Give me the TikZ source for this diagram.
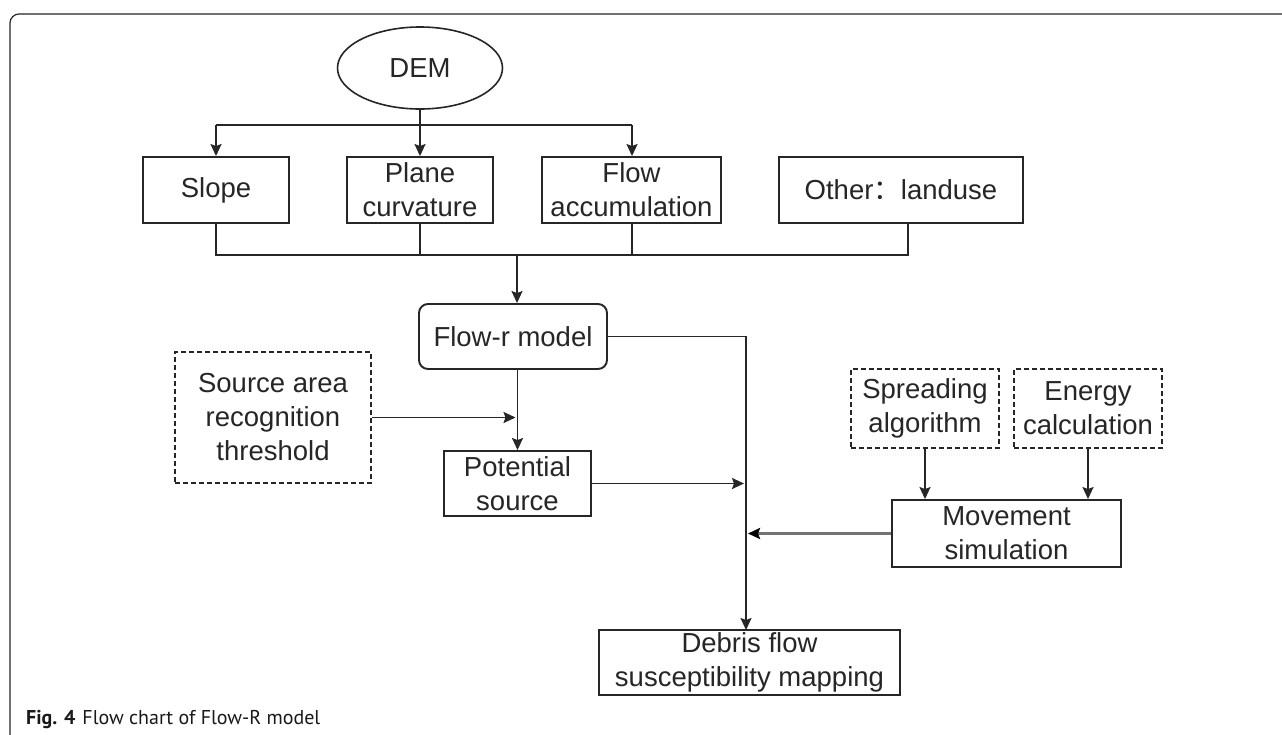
\documentclass[tikz,border=0pt]{standalone}
\usepackage{fontspec}
\setmainfont{Liberation Sans}
\newfontfamily\capfont{PT Sans}
\newfontfamily\cjkfont{Noto Sans CJK SC}
\usetikzlibrary{shapes.geometric,arrows.meta,calc}
\begin{document}
\begin{tikzpicture}[x=1pt,y=-1pt,
  lbl/.style={inner sep=0pt,align=center,text=black!85,font=\fontsize{27.5}{34}\selectfont},
  box/.style={lbl,draw=black!85,line width=1.9pt,rectangle},
  rbox/.style={box,rounded corners=9pt},
  dbox/.style={box,dashed,dash pattern=on 5pt off 3pt},
  oval/.style={lbl,draw=black!85,line width=1.6pt,ellipse},
  conn/.style={draw=black!85,line width=1.8pt},
  arr/.style={conn,-{Stealth[length=12pt,width=11pt,inset=2pt]}},
  grayarr/.style={draw=black!55,line width=2.6pt,-{Stealth[length=12pt,width=11pt,inset=2pt,color=black,fill=black]}},
  frame/.style={draw=black!85,line width=1.2pt,rounded corners=9pt}
]
\useasboundingbox (0,0) rectangle (1282,734);
\path[fill=white] (0,0) rectangle (1282,734);
\draw[frame] (1283,14) -- (10,14) -- (10,735);

\node[oval,minimum width=165pt,minimum height=82pt] (dem) at (420,68) {DEM};
\node[box,minimum width=146pt,minimum height=66pt] (slope) at (216,190) {Slope};
\node[box,minimum width=146pt,minimum height=66pt] (plane) at (420,190) {Plane\\curvature};
\node[box,minimum width=179pt,minimum height=66pt] (flowacc) at (631.5,190) {Flow\\accumulation};
\node[box,minimum width=244pt,minimum height=66pt] (other) at (901,190) {Other{\cjkfont ：}landuse};
\node[rbox,minimum width=188pt,minimum height=65pt] (flowr) at (513,336.5) {Flow-r model};
\node[dbox,minimum width=196pt,minimum height=131pt] (source) at (273,417.5) {Source area\\recognition\\threshold};
\node[box,minimum width=147pt,minimum height=65pt] (potential) at (517.5,483.5) {Potential\\source};
\node[dbox,minimum width=148pt,minimum height=79pt] (spreading) at (925,408.5) {Spreading\\algorithm};
\node[dbox,minimum width=148pt,minimum height=79pt] (energy) at (1088,408.5) {Energy\\calculation};
\node[box,minimum width=229pt,minimum height=67pt] (movement) at (1006.5,533.5) {Movement\\simulation};
\node[box,minimum width=301pt,minimum height=65pt] (debris) at (749.5,662.5) {Debris flow\\susceptibility mapping};

\node[anchor=base west,inner sep=0pt,text=black!90,font=\capfont\fontsize{20}{22}\selectfont] (cap) at (26,724) {\textbf{Fig. 4}\hspace{7pt}Flow chart of Flow-R model};

% DEM distribution
\coordinate (hL) at (216,125);
\coordinate (hR) at (632,125);
\draw[conn] (hL) -- (hR);
\draw[arr] (dem.south) -- (plane.north);
\draw[arr] (hL) -- (slope.north);
\draw[arr] (hR) -- (hR |- flowacc.north);

% collection line
\coordinate (bL) at (216,255);
\coordinate (bR) at (908,255);
\coordinate (bM) at (517,255);
\draw[conn] (slope.south) -- (bL) -- (bR) -- (bR |- other.south);
\draw[conn] (plane.south) -- (plane.south |- bL);
\draw[conn] (flowacc.south -| hR) -- (hR |- bL);
\draw[arr] (bM) -- (bM |- flowr.north);

% Flow-r to potential
\coordinate (pv) at (517.5,369);
\draw[arr] (pv) -- (potential.north);
\draw[arr] (source.east) -- ($(source.east -| pv)+(-2,0)$);

% main vertical line
\coordinate (vtop) at (746,336.5);
\coordinate (vbot) at (746,630);
\draw[arr] (flowr.east) -- (vtop) -- (vbot);
\draw[arr] (potential.east) -- ($(potential.east -| vtop)+(-2,0)$);
\draw[grayarr] (movement.west) -- ($(movement.west -| vtop)+(2,0)$);

% inputs to movement
\draw[arr] (spreading.south) -- (spreading.south |- movement.north);
\draw[arr] (energy.south) -- (energy.south |- movement.north);
\end{tikzpicture}
\end{document}
